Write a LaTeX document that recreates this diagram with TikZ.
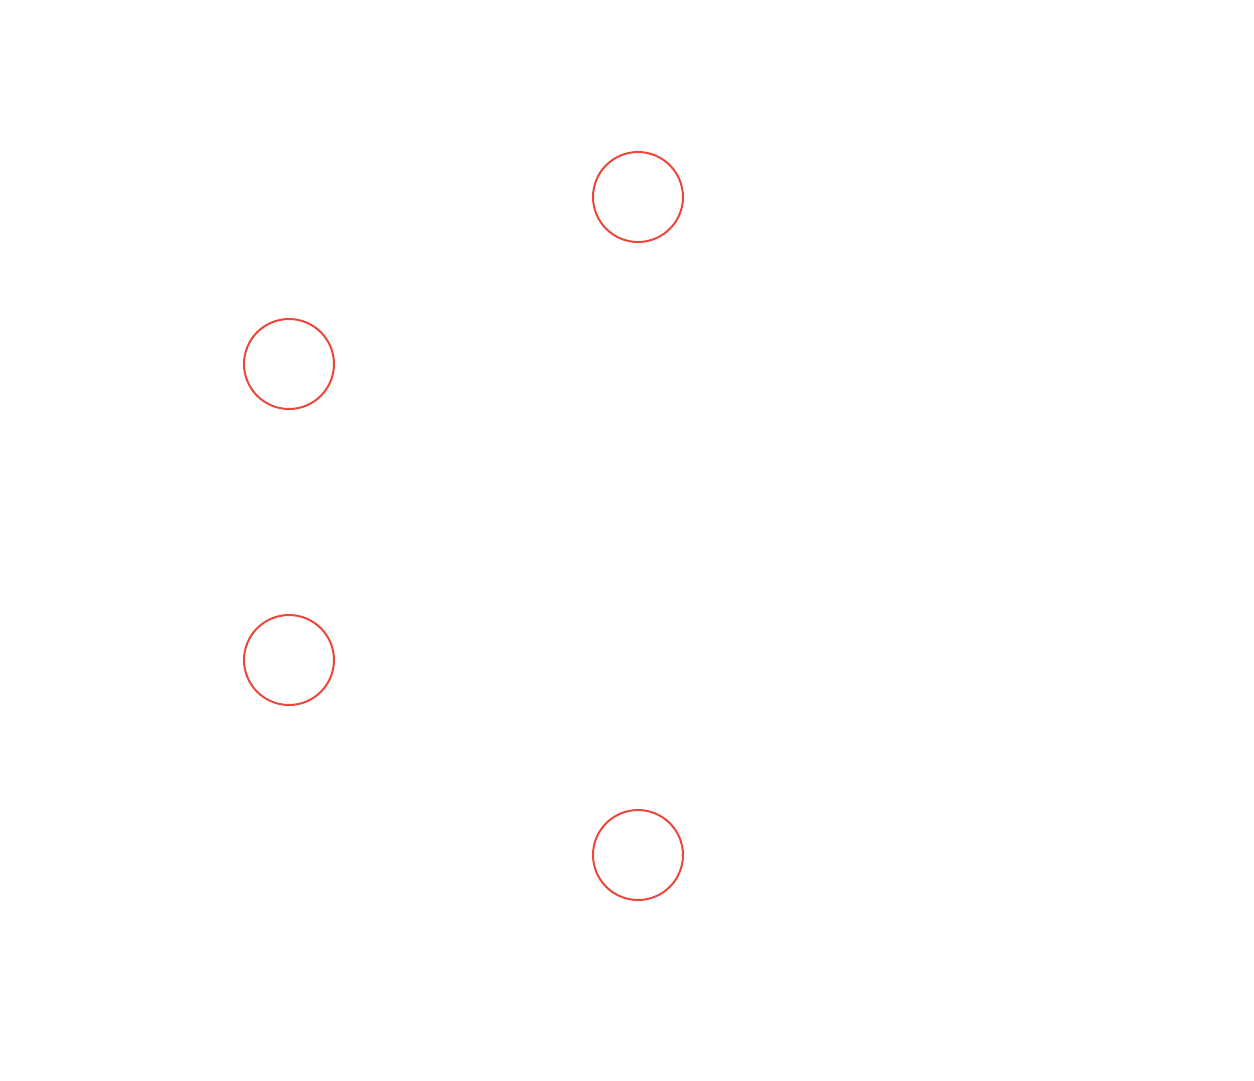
\documentclass[tikz,border=0pt]{standalone}
\definecolor{circred}{RGB}{234,72,58}
\begin{document}
\begin{tikzpicture}[x=0.02cm,y=-0.02cm,
  ring/.style={circle,draw=circred,line width=0.04cm,minimum size=1.8cm,inner sep=0pt}]
\useasboundingbox (0,0) rectangle (1254,1080);
\node[ring] (a) at (638,197) {};
\node[ring] (b) at (289,364) {};
\node[ring] (c) at (289,660) {};
\node[ring] (d) at (638,855) {};
\end{tikzpicture}
\end{document}
